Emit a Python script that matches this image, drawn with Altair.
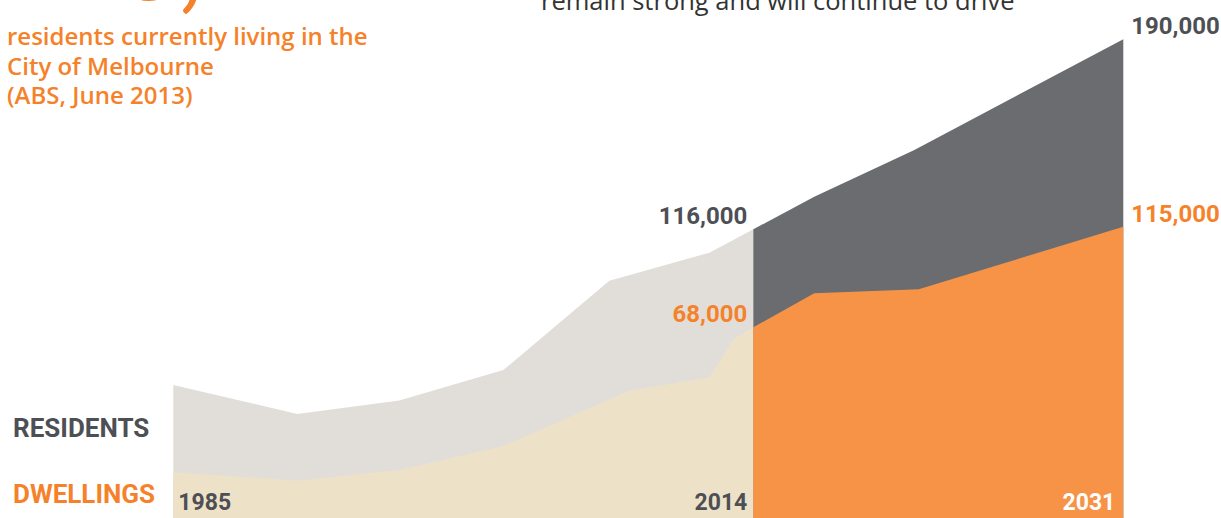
import altair as alt
import pandas as pd

# ---- data ----
res_hist_years = [1985, 1991.2, 1996.3, 2001.5, 2006.8, 2011.8, 2013, 2014]
res_hist_vals = [52800, 41300, 46600, 58700, 94200, 105300, 110300, 114600]
res_proj_years = [2014, 2016.8, 2021.4, 2031]
res_proj_vals = [114600, 127500, 146100, 190000]
dw_hist_years = [1985, 1991.2, 1996.3, 2001.5, 2007.8, 2011.8, 2013, 2014]
dw_hist_vals = [18100, 14800, 19100, 28600, 50500, 55800, 70900, 75700]
dw_proj_years = [2014, 2016.8, 2021.6, 2031]
dw_proj_vals = [75700, 89200, 90800, 115600]

label_texts = ["116,000", "68,000", "190,000", "115,000"]
label_years = [2014, 2014, 2031, 2031]
label_vals = [114600, 75700, 190000, 115600]
label_groups = ["res", "dw", "res", "dw"]

year_labels = ["1985", "2014", "2031"]
year_positions = [1985, 2014, 2031]

subtitle_lines = ["residents currently living in the", "City of Melbourne", "(ABS, June 2013)"]

# ---- colours ----
C_LIGHT = "#E1DED9"
C_BEIGE = "#EDE2C7"
C_DARK = "#6B6C70"
C_ORANGE = "#F69347"
T_DARK = "#4D4F55"
T_ORANGE = "#F5822A"

frames = []
for name, ys, vs in [("res_hist", res_hist_years, res_hist_vals),
                     ("res_proj", res_proj_years, res_proj_vals),
                     ("dw_hist", dw_hist_years, dw_hist_vals),
                     ("dw_proj", dw_proj_years, dw_proj_vals)]:
    frames.append(pd.DataFrame({"year": ys, "value": vs, "series": name}))
areas_df = pd.concat(frames, ignore_index=True)

labels_df = pd.DataFrame({"text": label_texts, "year": label_years,
                          "value": label_vals, "group": label_groups})
years_df = pd.DataFrame({"text": year_labels, "year": year_positions})

xscale = alt.Scale(domain=[1985, 2014, 2031], range=[173.3, 753.3, 1123.3])
yscale = alt.Scale(domain=[0, 205600], nice=False, zero=True)

X = alt.X("year:Q", scale=xscale, axis=None)
Y = alt.Y("value:Q", scale=yscale, axis=None)

base = alt.Chart(areas_df)
layers = []
for name, col in [("res_hist", C_LIGHT), ("res_proj", C_DARK),
                  ("dw_hist", C_BEIGE), ("dw_proj", C_ORANGE)]:
    layers.append(
        base.transform_filter(alt.datum.series == name)
        .mark_area(color=col, opacity=1, interpolate="linear")
        .encode(x=X, y=Y)
    )

NUMFONT = "Roboto"
lab = alt.Chart(labels_df)
for txt, align, dx, col in [("116,000", "right", -6, T_DARK),
                            ("68,000", "right", -6, T_ORANGE),
                            ("190,000", "left", 8, T_DARK),
                            ("115,000", "left", 8, T_ORANGE)]:
    layers.append(
        lab.transform_filter(alt.datum.text == txt)
        .mark_text(font=NUMFONT, fontWeight="bold", fontSize=24, align=align,
                   baseline="middle", dx=dx, dy=-12, color=col)
        .encode(x=X, y=Y, text="text:N")
    )

yl = alt.Chart(years_df)
for txt, align, dx, col in [("1985", "left", 5, T_DARK),
                            ("2014", "right", -6, T_DARK),
                            ("2031", "right", -8, "#FFFFFF")]:
    layers.append(
        yl.transform_filter(alt.datum.text == txt)
        .mark_text(font=NUMFONT, fontWeight="bold", fontSize=23, align=align,
                   baseline="middle", dx=dx, color=col)
        .encode(x=X, y=alt.value(503), text="text:N")
    )

# legend-like labels
LABFONT = "Roboto"
layers.append(
    alt.Chart(pd.DataFrame({"t": ["RESIDENTS"]}))
    .mark_text(font=LABFONT, fontWeight="bold", fontSize=26, align="left",
               baseline="middle", color=T_DARK)
    .encode(x=alt.value(13), y=alt.value(429), text="t:N")
)
layers.append(
    alt.Chart(pd.DataFrame({"t": ["DWELLINGS"]}))
    .mark_text(font=LABFONT, fontWeight="bold", fontSize=26, align="left",
               baseline="middle", color=T_ORANGE)
    .encode(x=alt.value(13), y=alt.value(495), text="t:N")
)

# top-left cut-off headline number and subtitle
layers.append(
    alt.Chart(pd.DataFrame({"t": ["116,447"]}))
    .mark_text(font="Lato", fontWeight="bold", fontSize=100, align="left",
               baseline="alphabetic", color=T_ORANGE)
    .encode(x=alt.value(4), y=alt.value(-0.5), text="t:N")
)
for i, line in enumerate(subtitle_lines):
    layers.append(
        alt.Chart(pd.DataFrame({"t": [line]}))
        .mark_text(font="Open Sans", fontWeight=600, fontSize=24, align="left",
                   baseline="middle", color=T_ORANGE)
        .encode(x=alt.value(7), y=alt.value(38 + 29.5 * i), text="t:N")
    )

layers.append(
    alt.Chart(pd.DataFrame({"t": ["remain strong and will continue to drive"]}))
    .mark_text(font="Open Sans", fontSize=25.5, align="left",
               baseline="alphabetic", color="#333333")
    .encode(x=alt.value(541), y=alt.value(10), text="t:N")
)

chart = (
    alt.layer(*layers)
    .properties(width=1221, height=518, padding=0,
                autosize=alt.AutoSizeParams(type="none"), background="white")
    .configure_view(stroke=None)
)

chart.save("out.html", embed_options={"renderer": "svg", "actions": False})
